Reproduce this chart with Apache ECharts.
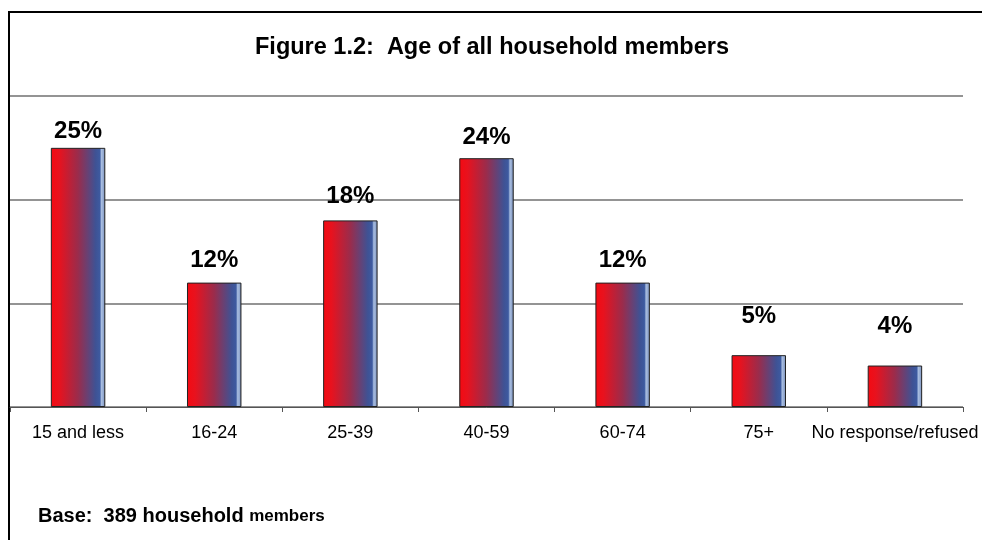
<!DOCTYPE html>
<html>
<head>
<meta charset="utf-8">
<script src="https://cdn.jsdelivr.net/npm/echarts@6/dist/echarts.min.js"></script>
<style>
  html, body { margin: 0; padding: 0; background: #fff; }
  #chart { width: 982px; height: 540px; }
</style>
</head>
<body>
<div id="chart"></div>
<script>
  // data
  var categories = ['15 and less', '16-24', '25-39', '40-59', '60-74', '75+', 'No response/refused'];
  var percents = [25, 12, 18, 24, 12, 5, 4];
  var yTicks = [0, 10, 20, 30];

  // extra lift of each value label above its bar (px), as in the original
  var labelLift = [0, 6, 8, 5, 6, 23, 23];

  var chart = echarts.init(document.getElementById('chart'));

  var barFill = new echarts.graphic.LinearGradient(0, 0, 1, 0, [
    {offset: 0, color: '#f40a12'},
    {offset: 0.15, color: '#e8121e'},
    {offset: 0.5, color: '#9a2c4c'},
    {offset: 0.82, color: '#3f5294'},
    {offset: 0.9, color: '#3d5aa0'},
    {offset: 0.93, color: '#a8bde0'},
    {offset: 0.97, color: '#8ea4cc'},
    {offset: 1, color: '#5a6e96'}
  ]);

  var font = 'Liberation Sans, Arial, sans-serif';

  var option = {
    animation: false,
    backgroundColor: '#fff',
    textStyle: {fontFamily: font},
    title: {
      text: 'Figure 1.2:  Age of all household members',
      left: 487,
      textAlign: 'center',
      top: 31,
      textStyle: {fontSize: 23.5, fontWeight: 'bold', color: '#000', fontFamily: font}
    },
    grid: {left: 10, right: 19, top: 96, bottom: 133, containLabel: false},
    xAxis: {
      type: 'category',
      data: categories,
      axisLine: {lineStyle: {color: '#555', width: 1}},
      axisTick: {show: true, length: 5, lineStyle: {color: '#555'}},
      axisLabel: {color: '#000', fontSize: 18, margin: 17, interval: 0}
    },
    yAxis: {
      type: 'value',
      min: yTicks[0],
      max: yTicks[yTicks.length - 1],
      interval: 10,
      axisLabel: {show: false},
      axisLine: {show: false},
      axisTick: {show: false},
      splitLine: {lineStyle: {color: '#707070', width: 1.5}}
    },
    series: [{
      type: 'bar',
      barWidth: '40%',
      data: percents.map(function (v, i) {
        return {
          value: v,
          label: {distance: 4 + labelLift[i]}
        };
      }),
      itemStyle: {color: barFill, borderColor: '#222', borderWidth: 1},
      label: {
        show: true,
        position: 'top',
        formatter: '{c}%',
        fontSize: 24,
        fontWeight: 'bold',
        color: '#000'
      }
    }],
    graphic: [
      {
        type: 'rect',
        shape: {x: 9, y: 12, width: 1000, height: 600},
        style: {fill: null, stroke: '#000', lineWidth: 2},
        silent: true
      },
      {
        type: 'text',
        left: 38,
        top: 506,
        style: {
          text: '{a|Base:  389 household }{b|members}',
          rich: {
            a: {fontSize: 20, fontWeight: 'bold', fill: '#000', fontFamily: font},
            b: {fontSize: 17, fontWeight: 'bold', fill: '#000', fontFamily: font}
          }
        }
      }
    ]
  };

  chart.setOption(option);
</script>
</body>
</html>
